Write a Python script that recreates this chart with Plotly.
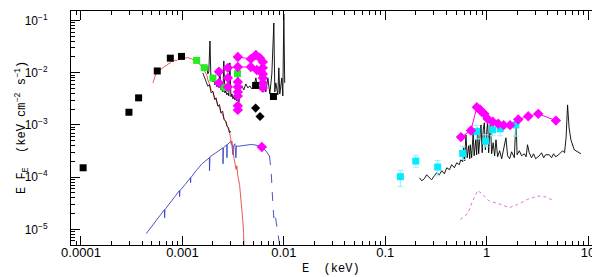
import plotly.graph_objects as go

# ---------------- data ----------------
# black photometric squares (radio/optical)
sq_e = [1.05e-4, 2.97e-4, 3.7e-4, 5.65e-4, 7.6e-4, 9.8e-4, 5.27e-3, 7.9e-3]
sq_f = [1.51e-4, 1.75e-3, 3.3e-3, 1.08e-2, 1.9e-2, 2.05e-2, 5.7e-3, 3.5e-3]

# black diamonds
bd_e = [5.27e-3, 5.83e-3]
bd_f = [2.1e-3, 1.45e-3]

# green squares
gr_e = [1.38e-3, 1.64e-3, 2.0e-3, 2.58e-3, 3.49e-3]
gr_f = [1.72e-2, 1.25e-2, 7.9e-3, 5.28e-3, 9.6e-3]

# magenta UV connected sets
mua_e = [3.52e-3, 4.73e-3, 5.30e-3, 5.81e-3, 6.21e-3]
mua_f = [2.00e-2, 1.84e-2, 2.19e-2, 1.92e-2, 1.61e-2]
mub_e = [2.29e-3, 2.81e-3, 3.52e-3, 4.73e-3, 5.42e-3, 5.94e-3]
mub_f = [1.04e-2, 1.24e-2, 1.29e-2, 1.29e-2, 1.13e-2, 1.04e-2]
# magenta UV single points
mus_e = [2.29e-3, 2.81e-3, 2.81e-3, 3.52e-3, 3.52e-3, 3.52e-3, 3.52e-3, 3.52e-3, 3.52e-3,
         6.21e-3, 6.21e-3, 6.21e-3, 6.21e-3, 6.21e-3, 6.07e-3]
mus_f = [6.38e-3, 7.96e-3, 5.35e-3, 6.67e-3, 5.35e-3, 4.29e-3, 3.60e-3, 2.32e-3, 1.94e-3,
         1.24e-2, 9.48e-3, 7.96e-3, 6.38e-3, 5.12e-3, 3.77e-4]

# magenta X-ray connected
mx_e = [0.558, 0.70, 0.80, 0.86, 0.893, 0.95, 1.02, 1.15, 1.30, 1.47, 1.70, 2.05, 2.57, 3.23, 4.82]
mx_f = [5.85e-4, 7.82e-4, 2.19e-3, 1.97e-3, 1.78e-3, 1.63e-3, 1.31e-3, 1.15e-3, 1.05e-3,
        9.9e-4, 9.9e-4, 1.27e-3, 1.47e-3, 1.63e-3, 1.21e-3]

# magenta dotted model
md_e = [0.551, 0.650, 0.728, 0.815, 0.914, 1.06, 1.38, 1.67, 2.02, 2.53, 3.18, 3.84, 4.64]
md_f = [1.55e-5, 2.0e-5, 3.49e-5, 5.57e-5, 4.67e-5, 3.49e-5, 3.0e-5, 2.6e-5, 3.0e-5,
        3.75e-5, 4.35e-5, 4.17e-5, 3.49e-5]

# cyan squares with error bars
cy_e = [0.141, 0.200, 0.329, 0.580, 0.80, 0.977, 1.145, 1.36, 1.94]
cy_f = [1.02e-4, 2.03e-4, 1.56e-4, 2.84e-4, 7.48e-4, 4.9e-4, 8.06e-4, 8.42e-4, 1.0e-3]
cy_hi = [1.36e-4, 2.62e-4, 2.08e-4, 3.93e-4, 9.82e-4, 6.47e-4, 1.0e-3, 1.1e-3, 1.33e-3]
cy_lo = [6.55e-5, 1.55e-4, 1.06e-4, 2.18e-4, 5.42e-4, 3.81e-4, 6.19e-4, 6.19e-4, 6.1e-4]

# red model line
red_e = [5.12e-4, 5.36e-4, 5.52e-4, 5.75e-4, 6.00e-4, 6.3e-4, 6.68e-4, 7.0e-4, 7.2e-4, 7.5e-4,
         7.76e-4, 8.1e-4, 8.44e-4, 8.7e-4, 9.04e-4, 9.4e-4, 9.89e-4, 1.04e-3, 1.09e-3, 1.14e-3,
         1.19e-3, 1.23e-3, 1.27e-3, 1.31e-3, 1.36e-3, 1.42e-3, 1.48e-3, 1.52e-3, 1.56e-3, 1.60e-3,
         1.65e-3, 1.74e-3, 1.78e-3, 1.85e-3, 1.92e-3, 2.0e-3, 2.08e-3, 2.15e-3, 2.24e-3, 2.32e-3,
         2.40e-3, 2.49e-3, 2.58e-3, 2.68e-3, 2.81e-3, 2.92e-3, 3.0e-3, 3.03e-3, 3.08e-3, 3.15e-3,
         3.22e-3, 3.29e-3, 3.39e-3, 3.44e-3, 3.52e-3, 3.66e-3, 3.73e-3, 3.79e-3, 3.87e-3, 3.94e-3,
         4.01e-3, 4.05e-3]
red_f = [6.38e-3, 7.96e-3, 9.9e-3, 1.08e-2, 1.13e-2, 1.2e-2, 1.33e-2, 1.38e-2, 1.47e-2, 1.5e-2,
         1.66e-2, 1.62e-2, 1.76e-2, 1.70e-2, 1.78e-2, 1.88e-2, 1.87e-2, 1.95e-2, 1.92e-2, 1.96e-2,
         1.84e-2, 1.86e-2, 1.78e-2, 1.72e-2, 1.61e-2, 1.55e-2, 1.43e-2, 1.40e-2, 1.29e-2, 1.2e-2,
         1.07e-2, 9.08e-3, 7.3e-3, 6.1e-3, 4.7e-3, 4.3e-3, 3.3e-3, 3.0e-3, 2.3e-3, 2.2e-3,
         1.7e-3, 1.63e-3, 1.25e-3, 1.15e-3, 8.8e-4, 7.06e-4, 5.42e-4, 4.22e-4, 4.9e-4, 2.72e-4,
         2.35e-4, 1.88e-4, 1.40e-4, 1.65e-4, 1.06e-4, 7.25e-5, 5.03e-5, 3.49e-5, 2.38e-5, 1.47e-5,
         8.65e-6, 4.47e-6]

# blue model line (solid part)
blue_e = [4.40e-4, 5.12e-4, 5.74e-4, 6.65e-4, 6.68e-4, 6.73e-4, 7.71e-4, 8.63e-4, 9.34e-4, 9.38e-4,
          9.45e-4, 1.06e-3, 1.20e-3, 1.205e-3, 1.21e-3, 1.36e-3, 1.56e-3, 1.845e-3, 1.85e-3, 1.87e-3,
          2.14e-3, 2.40e-3, 2.51e-3, 2.515e-3, 2.535e-3, 2.74e-3, 2.75e-3, 2.76e-3, 2.94e-3, 3.01e-3,
          3.08e-3, 3.15e-3, 3.19e-3, 3.29e-3, 3.37e-3, 3.41e-3, 3.52e-3, 3.79e-3, 4.22e-3, 4.77e-3,
          5.30e-3, 5.97e-3, 6.65e-3, 7.22e-3]
blue_f = [8.28e-6, 1.23e-5, 1.67e-5, 2.38e-5, 1.67e-5, 2.38e-5, 3.39e-5, 4.41e-5, 5.50e-5, 4.22e-5,
          5.50e-5, 7.16e-5, 9.75e-5, 7.82e-5, 9.75e-5, 1.32e-4, 1.80e-4, 2.35e-4, 1.32e-4, 2.46e-4,
          2.93e-4, 3.49e-4, 3.65e-4, 1.80e-4, 3.65e-4, 4.17e-4, 2.35e-4, 4.17e-4, 4.65e-4, 4.86e-4,
          4.17e-4, 2.68e-4, 3.98e-4, 4.35e-4, 2.35e-4, 3.98e-4, 3.90e-4, 3.98e-4, 4.17e-4, 4.22e-4,
          4.11e-4, 3.77e-4, 3.20e-4, 2.53e-4]
# blue model line (dashed tail)
blued_e = [7.22e-3, 7.50e-3, 7.80e-3, 7.97e-3, 8.15e-3, 8.34e-3, 8.73e-3, 9.08e-3]
blued_f = [2.53e-4, 1.32e-4, 2.96e-5, 1.67e-5, 2.08e-5, 1.47e-5, 7.92e-6, 5.10e-6]

# black UV spectrum (upper)
uv_e = [1.63e-3, 1.70e-3, 1.74e-3, 1.78e-3, 1.82e-3, 1.87e-3, 1.91e-3, 1.95e-3, 2.00e-3, 2.04e-3,
        2.09e-3, 2.14e-3, 2.19e-3, 2.24e-3, 2.29e-3, 2.34e-3, 2.40e-3, 2.45e-3, 2.51e-3, 2.56e-3,
        2.62e-3, 2.68e-3, 2.74e-3, 2.81e-3, 2.87e-3, 2.94e-3, 3.01e-3, 3.08e-3, 3.15e-3, 3.22e-3,
        3.29e-3, 3.37e-3, 3.44e-3, 3.52e-3, 3.61e-3, 3.69e-3, 3.86e-3, 4.03e-3, 4.22e-3, 4.42e-3,
        4.62e-3, 4.84e-3, 5.06e-3, 5.30e-3, 5.54e-3, 5.80e-3, 6.07e-3, 6.35e-3, 6.65e-3, 6.96e-3,
        7.28e-3, 7.62e-3, 7.97e-3, 8.15e-3, 8.34e-3, 8.73e-3, 8.93e-3, 9.13e-3, 9.56e-3, 9.78e-3,
        1.00e-2, 1.02e-2]
uv_f = [1.41e-2, 1.13e-2, 1.35e-2, 9.48e-3, 1.04e-2, 4.05e-2, 7.96e-3, 8.69e-3, 6.67e-3, 7.28e-3,
        5.85e-3, 6.38e-3, 5.35e-3, 5.85e-3, 5.12e-3, 1.13e-2, 4.69e-3, 5.12e-3, 4.29e-3, 1.68e-2,
        4.1e-3, 4.49e-3, 3.76e-3, 4.1e-3, 3.60e-3, 1.54e-2, 3.45e-3, 3.93e-3, 3.16e-3, 3.60e-3,
        3.02e-3, 3.30e-3, 2.89e-3, 9.48e-3, 2.76e-3, 5.12e-3, 5.59e-3, 4.69e-3, 6.10e-3, 5.12e-3,
        5.59e-3, 4.9e-3, 5.35e-3, 7.96e-3, 5.12e-3, 5.59e-3, 4.9e-3, 6.10e-3, 4.29e-3, 7.96e-3,
        3.93e-3, 9.48e-3, 8.96e-2, 4.29e-3, 6.38e-3, 3.76e-3, 1.24e-2, 3.93e-3, 7.96e-3, 3.60e-3,
        1.33e-1, 6.38e-3]

# black optical spectrum (lower, descending)
op_e = [1.59e-3, 1.71e-3, 1.78e-3, 1.85e-3, 1.92e-3, 2.00e-3, 2.08e-3, 2.15e-3, 2.24e-3, 2.32e-3,
        2.40e-3, 2.49e-3, 2.58e-3, 2.68e-3, 2.75e-3, 2.85e-3, 2.92e-3, 3.00e-3]
op_f = [9.9e-3, 6.87e-3, 5.52e-3, 5.92e-3, 4.11e-3, 4.42e-3, 3.06e-3, 3.30e-3, 2.29e-3, 2.45e-3,
        1.70e-3, 1.84e-3, 1.27e-3, 1.18e-3, 9.49e-4, 8.81e-4, 7.06e-4, 7.60e-4]

# black X-ray spectrum
xr_e = [0.217, 0.229, 0.243, 0.256, 0.272, 0.287, 0.305, 0.321, 0.342, 0.361, 0.383, 0.404, 0.430,
        0.452, 0.481, 0.506, 0.538, 0.555, 0.581, 0.593, 0.607, 0.625, 0.643, 0.665, 0.681, 0.690,
        0.711, 0.736, 0.753, 0.780, 0.797, 0.815, 0.834, 0.863, 0.879, 0.904, 0.925, 0.949, 0.971,
        1.000, 1.023, 1.047, 1.087, 1.120, 1.159, 1.199, 1.236, 1.283, 1.343, 1.406, 1.469, 1.549,
        1.610, 1.686, 1.763, 1.875, 1.945, 1.997, 2.10, 2.21, 2.35, 2.45, 2.53, 2.63, 2.77, 2.90,
        3.04, 3.30, 3.48, 3.65, 3.81, 4.15, 4.37, 4.57, 4.79, 5.12, 5.61, 5.86, 6.07, 6.28, 6.50,
        6.77, 7.31, 7.88, 8.50]
xr_f = [9.75e-5, 8.53e-5, 9.32e-5, 1.11e-4, 9.75e-5, 8.92e-5, 1.06e-4, 1.21e-4, 1.11e-4, 1.33e-4,
        1.16e-4, 1.51e-4, 1.39e-4, 1.73e-4, 1.51e-4, 1.88e-4, 1.73e-4, 2.15e-4, 1.97e-4, 3.65e-4,
        2.06e-4, 6.47e-4, 2.35e-4, 3.98e-4, 2.25e-4, 4.17e-4, 2.35e-4, 7.06e-4, 2.56e-4, 5.19e-4,
        2.68e-4, 8.81e-4, 2.80e-4, 5.66e-4, 1.00e-3, 2.93e-4, 8.06e-4, 1.10e-3, 3.34e-4, 7.06e-4,
        1.20e-3, 2.93e-4, 1.25e-3, 2.80e-4, 4.55e-4, 2.56e-4, 5.19e-4, 2.45e-4, 3.20e-4, 2.25e-4,
        3.65e-4, 5.66e-4, 2.56e-4, 2.25e-4, 3.06e-4, 2.35e-4, 1.25e-3, 2.68e-4, 3.20e-4, 2.56e-4,
        2.80e-4, 2.45e-4, 4.17e-4, 2.93e-4, 2.35e-4, 2.80e-4, 2.25e-4, 2.56e-4, 2.93e-4, 2.35e-4,
        2.68e-4, 2.68e-4, 2.35e-4, 2.80e-4, 2.45e-4, 2.68e-4, 3.20e-4, 2.93e-4, 5.66e-4, 2.42e-3,
        8.81e-4, 5.19e-4, 3.34e-4, 3.06e-4, 2.80e-4]

x_tickvals = [1e-4, 1e-3, 1e-2, 1e-1, 1, 10]
x_ticktext = ["0.0001", "0.001", "0.01", "0.1", "1", "10"]
y_tickvals = [1e-5, 1e-4, 1e-3, 1e-2, 1e-1]
y_ticktext = ["10<sup>−5</sup>", "10<sup>−4</sup>", "10<sup>−3</sup>", "10<sup>−2</sup>", "10<sup>−1</sup>"]
x_title = "E  (keV)"
y_title = "E F<sub>E</sub>  (keV cm<sup>−2</sup> s<sup>−1</sup>)"

# ---------------- figure ----------------
BLACK = "#000000"
RED = "#e8453c"
BLUE = "#3a40c4"
MAG = "#ff00ff"
GREEN = "#22ee22"
CYAN = "#00ecff"

fig = go.Figure()

def line(x, y, color, width=1, dash="solid"):
    fig.add_trace(go.Scatter(x=x, y=y, mode="lines",
                             line=dict(color=color, width=width, dash=dash),
                             hoverinfo="skip"))

line(blue_e, blue_f, BLUE, width=0.9)
line(blued_e, blued_f, BLUE, width=0.9, dash="dash")
line(red_e, red_f, RED, width=0.9)
line(op_e, op_f, "#1a0a0a", width=0.9)
line(uv_e, uv_f, BLACK, width=0.9)
line(xr_e, xr_f, BLACK, width=0.9)
line(md_e, md_f, "#e070e0", width=1, dash="dot")

# cyan squares with errors
fig.add_trace(go.Scatter(
    x=cy_e, y=cy_f, mode="markers",
    marker=dict(symbol="square", size=7, color=CYAN),
    error_y=dict(type="data", symmetric=False,
                 array=[h - v for h, v in zip(cy_hi, cy_f)],
                 arrayminus=[v - l for v, l in zip(cy_f, cy_lo)],
                 color="#8ff4ff", thickness=1, width=3)))

# green squares
fig.add_trace(go.Scatter(x=gr_e, y=gr_f, mode="markers",
                         marker=dict(symbol="square", size=7, color=GREEN)))

# magenta
MK = dict(symbol="diamond", size=8, color=MAG)
fig.add_trace(go.Scatter(x=mub_e, y=mub_f, mode="lines+markers",
                         line=dict(color=MAG, width=1), marker=MK))
fig.add_trace(go.Scatter(x=mua_e, y=mua_f, mode="lines+markers",
                         line=dict(color=MAG, width=1), marker=MK))
fig.add_trace(go.Scatter(x=mus_e, y=mus_f, mode="markers", marker=MK))
fig.add_trace(go.Scatter(x=mx_e, y=mx_f, mode="lines+markers",
                         line=dict(color=MAG, width=1), marker=MK))

# black
fig.add_trace(go.Scatter(x=sq_e, y=sq_f, mode="markers",
                         marker=dict(symbol="square", size=7, color=BLACK)))
fig.add_trace(go.Scatter(x=bd_e, y=bd_f, mode="markers",
                         marker=dict(symbol="diamond", size=7, color=BLACK)))

FONT = "Liberation Sans"
TFONT = "Liberation Mono"
axis_common = dict(
    type="log", showline=True, linecolor="black", linewidth=1, mirror="allticks",
    ticks="inside", ticklen=9, tickwidth=1, tickcolor="black", showgrid=False, zeroline=False,
    minor=dict(ticks="inside", ticklen=4, tickwidth=1, tickcolor="black", showgrid=False, dtick="D1"),
)

fig.update_layout(
    width=600, height=277,
    margin=dict(l=63, r=3, t=3, b=40),
    paper_bgcolor="white", plot_bgcolor="white",
    showlegend=False,
    font=dict(family=FONT, size=12, color="black"),
    xaxis=dict(axis_common, range=[-4.0985, 1.167], tickvals=x_tickvals, ticktext=x_ticktext,
               tickfont=dict(family=FONT, size=13, color="black"),
               ticklabelstandoff=-5),
    yaxis=dict(axis_common, range=[-5.30, -0.818], tickvals=y_tickvals, ticktext=y_ticktext,
               tickfont=dict(family=FONT, size=12, color="black"),
               ticklabelstandoff=20),
    annotations=[
        dict(text=x_title, xref="paper", yref="paper", x=(323 - 63) / 534, y=-(261 - 237) / 234,
             xanchor="center", yanchor="middle", showarrow=False,
             font=dict(family=TFONT, size=12, color="black")),
        dict(text=y_title, xref="paper", yref="paper", x=-(63 - 14) / 534, y=0.5,
             xanchor="center", yanchor="middle", showarrow=False, textangle=-90,
             font=dict(family=TFONT, size=12, color="black")),
    ],
)

fig.write_html("out.html")
